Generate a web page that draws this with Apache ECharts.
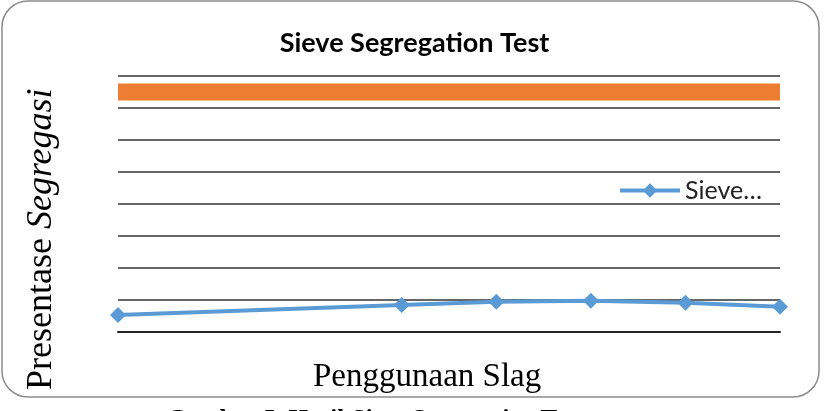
<!DOCTYPE html>
<html>
<head>
<meta charset="utf-8">
<script src="https://cdn.jsdelivr.net/npm/echarts@6/dist/echarts.min.js"></script>
<style>
html,body{margin:0;padding:0;background:#fff;}
#chart{width:829px;height:411px;}
</style>
</head>
<body>
<div id="chart"></div>
<script>
// Slag usage (%) on the x axis
const slagUsage = [0, 30, 40, 50, 60, 70];
// Sieve segregation (%) values
const sieveValues = [2.66, 4.22, 4.73, 4.89, 4.58, 3.95];
// Reference limit line (orange band)
const limitX = [0, 70];
const limitValues = [37.5, 37.5];
const seriesName = 'Sieve Segregation Test';
const legendLabel = 'Sieve…';

const chart = echarts.init(document.getElementById('chart'), null, {renderer: 'canvas'});
chart.setOption({
  animation: false,
  backgroundColor: '#fff',
  title: {
    text: 'Sieve Segregation Test',
    left: 'center',
    top: 25,
    textStyle: {fontFamily: 'Lato', fontWeight: 'bold', fontSize: 27, color: '#000'}
  },
  legend: {
    data: [seriesName],
    left: 613,
    top: 173,
    itemWidth: 60,
    itemHeight: 18,
    itemGap: 6,
    lineStyle: {width: 4},
    formatter: function () { return legendLabel; },
    textStyle: {fontFamily: 'Lato', fontSize: 25, color: '#222'}
  },
  grid: {left: 118, right: 49, top: 76, bottom: 79, containLabel: false},
  xAxis: {
    type: 'value',
    min: 0, max: 70,
    axisLine: {show: true, lineStyle: {color: '#222', width: 2}},
    axisTick: {show: false},
    axisLabel: {show: false},
    splitLine: {show: false}
  },
  yAxis: {
    type: 'value',
    min: 0, max: 40, interval: 5,
    axisLine: {show: false},
    axisTick: {show: false},
    axisLabel: {show: false},
    splitLine: {show: true, lineStyle: {color: '#666', width: 2}}
  },
  series: [
    {
      name: 'limit',
      type: 'line',
      data: limitX.map((x, i) => [x, limitValues[i]]),
      symbol: 'none',
      lineStyle: {color: '#ED7D31', width: 17, cap: 'butt'},
      z: 3
    },
    {
      name: seriesName,
      type: 'line',
      data: slagUsage.map((x, i) => [x, sieveValues[i]]),
      symbol: 'diamond',
      symbolSize: 16,
      itemStyle: {color: '#5B9BD5'},
      lineStyle: {color: '#5B9BD5', width: 4},
      z: 4
    }
  ],
  graphic: [
    {
      type: 'rect',
      shape: {x: 2, y: 1, width: 817, height: 396, r: 26},
      style: {fill: 'none', stroke: '#8c8c8c', lineWidth: 1.5},
      z: 0
    },
    {
      type: 'text',
      x: 313,
      y: 361,
      style: {text: 'Penggunaan Slag', font: '33px "Liberation Serif"', fill: '#000', verticalAlign: 'top'}
    },
    {
      type: 'text',
      x: 24, y: 390,
      rotation: Math.PI / 2,
      style: {
        text: '{n|Presentase }{i|Segregasi}',
        rich: {
          n: {font: '36px "Liberation Serif"', fill: '#000'},
          i: {font: 'italic 36px "Liberation Serif"', fill: '#000'}
        },
        verticalAlign: 'top',
        align: 'left'
      }
    },
    {
      type: 'text',
      x: 167, y: 408,
      style: {
        text: '{n|Gambar 5. Hasil }{i|Sieve Segregation}{n| Test}',
        rich: {
          n: {font: 'bold 25px "Liberation Serif"', fill: '#000'},
          i: {font: 'bold italic 25px "Liberation Serif"', fill: '#000'}
        },
        verticalAlign: 'top'
      }
    }
  ]
});
</script>
</body>
</html>
